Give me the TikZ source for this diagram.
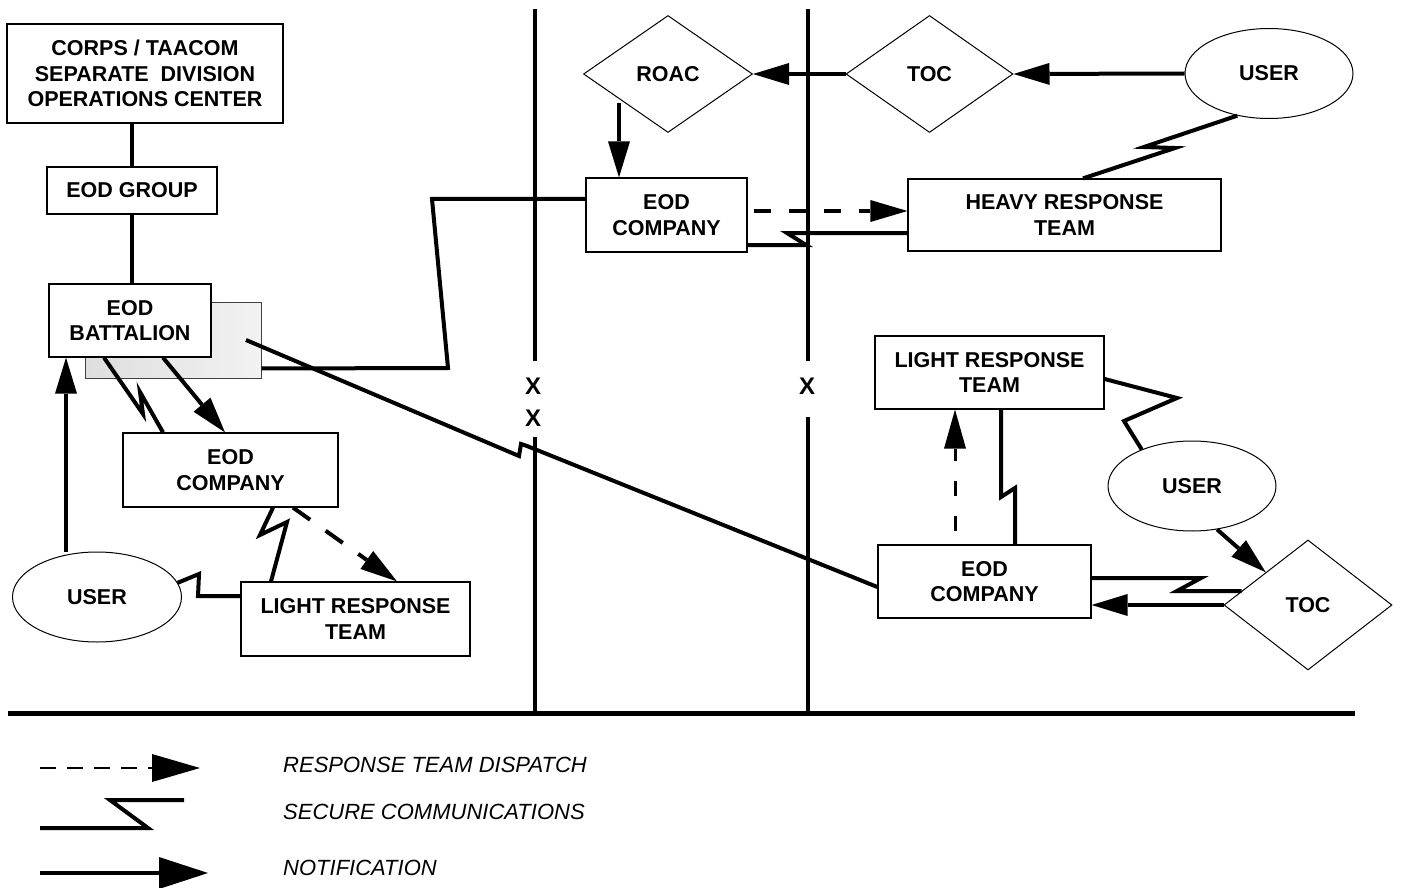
\documentclass[tikz,border=0pt]{standalone}
\usepackage{fontspec}
\setmainfont{Liberation Sans}
\usetikzlibrary{shapes.geometric,arrows.meta}
\tikzset{
  lbl/.style={font=\bfseries\fontsize{21.5}{25.5}\selectfont, align=center, inner sep=0pt},
  boxnode/.style={lbl, draw=black, line width=1.2pt, fill=white},
  shadowbox/.style={draw=black!75, line width=1pt, left color=black!13, right color=black!5},
  diamondnode/.style={lbl, shape=diamond, draw=black, line width=1pt, fill=white},
  ellnode/.style={lbl, shape=ellipse, draw=black, line width=1pt, fill=white},
  conn/.style={line width=4pt, line join=miter},
  notif/.style={conn, -{Triangle[length=36pt,width=22pt,line width=0pt]}},
  dispatch/.style={line width=4.5pt, dash pattern=on 17pt off 18pt, -{Triangle[length=37pt,width=22pt,line width=0pt]}},
  dispatchthin/.style={line width=3pt, dash pattern=on 15pt off 20pt, -{Triangle[length=39pt,width=22pt,line width=0pt]}},
  bound/.style={line width=4pt},
  xmark/.style={font=\bfseries\fontsize{24}{24}\selectfont, inner sep=0pt},
  legtext/.style={font=\itshape\fontsize{22}{22}\selectfont, inner sep=0pt, anchor=west},
  legdash/.style={line width=2pt, dash pattern=on 16pt off 11pt, -{Triangle[length=48pt,width=28pt,line width=0pt]}},
  legnotif/.style={line width=4.5pt, -{Triangle[length=49pt,width=32pt,line width=0pt]}}
}
\begin{document}
\begin{tikzpicture}[x=1pt,y=-1pt]
\useasboundingbox (0,0) rectangle (1401,888);

% boundary lines
\coordinate (v1t) at (535,9);  \coordinate (v1a) at (535,361);
\coordinate (v1b) at (535,437); \coordinate (v1e) at (535,713);
\coordinate (v2t) at (808,9);  \coordinate (v2a) at (808,361);
\coordinate (v2b) at (808,417); \coordinate (v2e) at (808,713);
\coordinate (bl) at (8,713); \coordinate (br) at (1355,713);
\draw[bound] (v1t) -- (v1a);
\draw[bound] (v1b) -- (v1e);
\draw[bound] (v2t) -- (v2a);
\draw[bound] (v2b) -- (v2e);
\draw[line width=5pt] (bl) -- (br);
\node[xmark] (x1) at (533,386) {X};
\node[xmark] (x2) at (533,418) {X};
\node[xmark] (x3) at (807,386) {X};

% nodes
\node[boxnode, minimum width=276pt, minimum height=99pt] (corps) at (145,73.5) {CORPS / TAACOM\\SEPARATE\ \ DIVISION\\OPERATIONS CENTER};
\node[boxnode, minimum width=170pt, minimum height=47pt] (group) at (132,190.5) {EOD GROUP};
\node[shadowbox, minimum width=176pt, minimum height=76pt, inner sep=0pt] (shadow) at (173,340) {};
\node[boxnode, minimum width=162pt, minimum height=73pt] (batt) at (130,320.5) {EOD\\BATTALION};
\node[boxnode, minimum width=215pt, minimum height=74pt] (eodL) at (230.5,470) {EOD\\COMPANY};
\node[boxnode, minimum width=229pt, minimum height=74pt] (lrtL) at (355.5,619) {LIGHT RESPONSE\\TEAM};
\node[ellnode, minimum width=169pt, minimum height=90pt] (userL) at (97,597) {USER};

\node[diamondnode, minimum width=169pt, minimum height=117pt] (roac) at (668,74) {ROAC};
\node[diamondnode, minimum width=167pt, minimum height=117pt] (toc1) at (929.5,74) {TOC};
\node[ellnode, minimum width=168pt, minimum height=90pt] (user1) at (1269,73.5) {USER};
\node[boxnode, minimum width=161pt, minimum height=74pt] (eodT) at (666.5,215) {EOD\\COMPANY};
\node[boxnode, minimum width=313pt, minimum height=72pt] (heavy) at (1064.5,215) {HEAVY RESPONSE\\TEAM};

\node[boxnode, minimum width=229pt, minimum height=73pt] (lrtR) at (989.5,372.5) {LIGHT RESPONSE\\TEAM};
\node[boxnode, minimum width=213pt, minimum height=73pt] (eodR) at (984.5,581.5) {EOD\\COMPANY};
\node[ellnode, minimum width=168pt, minimum height=90pt] (userR) at (1192,486) {USER};
\node[diamondnode, minimum width=168pt, minimum height=130pt] (toc2) at (1308,605) {TOC};

% left chain
\draw[conn] (group.north |- corps.south) -- (group.north);
\draw[conn] (group.south) -- (group.south |- batt.north);
\draw[conn] ([yshift=10pt]shadow.south east) -- (448,368) -- (432,199) -- ([yshift=16pt]eodT.west);
\draw[conn] ([xshift=73pt]shadow.center) -- (519,456) -- (521,444) -- (527,446) -- ([yshift=-5.5pt]eodR.west);
\draw[notif] ([xshift=-31pt]userL.north) -- ([xshift=-64pt]batt.south);
\draw[conn] ([xshift=-26pt]batt.south) -- (143,414) -- (140,392) -- ([xshift=-67.5pt]eodL.north);
\draw[notif] ([xshift=33pt]batt.south) -- ([xshift=-5.5pt]eodL.north);
\draw[conn] ([xshift=42.5pt]eodL.south) -- (260,535) -- (287,522) -- ([xshift=-84.5pt]lrtL.north);
\draw[dispatch, line width=4pt, dash pattern=on 21pt off 19pt] ([xshift=62.5pt]eodL.south) -- ([xshift=41.5pt]lrtL.north);
\draw[conn] ([yshift=23pt]lrtL.west) -- (198,596) -- (199,574) -- (userL.10);

% top right
\draw[notif] (toc1.west) -- (roac.east);
\draw[notif] (user1.west) -- (toc1.east);
\draw[notif] ([xshift=-47.5pt]eodT.north |- roac.south west) -- ([xshift=-47.5pt]eodT.north);
\draw[dispatch, shorten <=6pt] ([yshift=4pt]eodT.east) -- ([yshift=4pt]heavy.west);
\draw[conn] ([yshift=-30pt]eodT.east) -- (806,245) -- (787,233) -- ([yshift=-18pt]heavy.west);
\draw[conn] (user1.233) -- (1144,147) -- (1175,148) -- ([xshift=18.5pt]heavy.north);

% bottom right
\draw[conn] ([yshift=-6.5pt]lrtR.east) -- (1177,398) -- (1124,421) -- (userR.144);
\draw[dispatchthin, shorten <=13pt] ([xshift=-29.5pt]eodR.north) -- ([xshift=-34.5pt]lrtR.south);
\draw[conn] ([xshift=30.5pt]eodR.north) -- (1015,488) -- (1001,497) -- ([xshift=11.5pt]lrtR.south);
\draw[notif] (userR.300) -- (toc2.north west);
\draw[conn] ([yshift=3.5pt]eodR.east) -- (1201,578) -- (1177,591) -- ([xshift=18pt,yshift=14pt]toc2.west);
\draw[notif] (toc2.west) -- (toc2.west -| eodR.east);

% legend
\coordinate (d1) at (40,768); \coordinate (d2) at (200,768);
\coordinate (s1) at (40,828); \coordinate (s2) at (184,800);
\coordinate (n1) at (40,873); \coordinate (n2) at (208,873);
\draw[legdash] (d1) -- (d2);
\draw[conn] (s1) -- (148,828) -- (110,800) -- (s2);
\draw[legnotif] (n1) -- (n2);
\node[legtext] (t1) at (283,765) {RESPONSE TEAM DISPATCH};
\node[legtext] (t2) at (283,812) {SECURE COMMUNICATIONS};
\node[legtext] (t3) at (283,868) {NOTIFICATION};
\end{tikzpicture}
\end{document}
